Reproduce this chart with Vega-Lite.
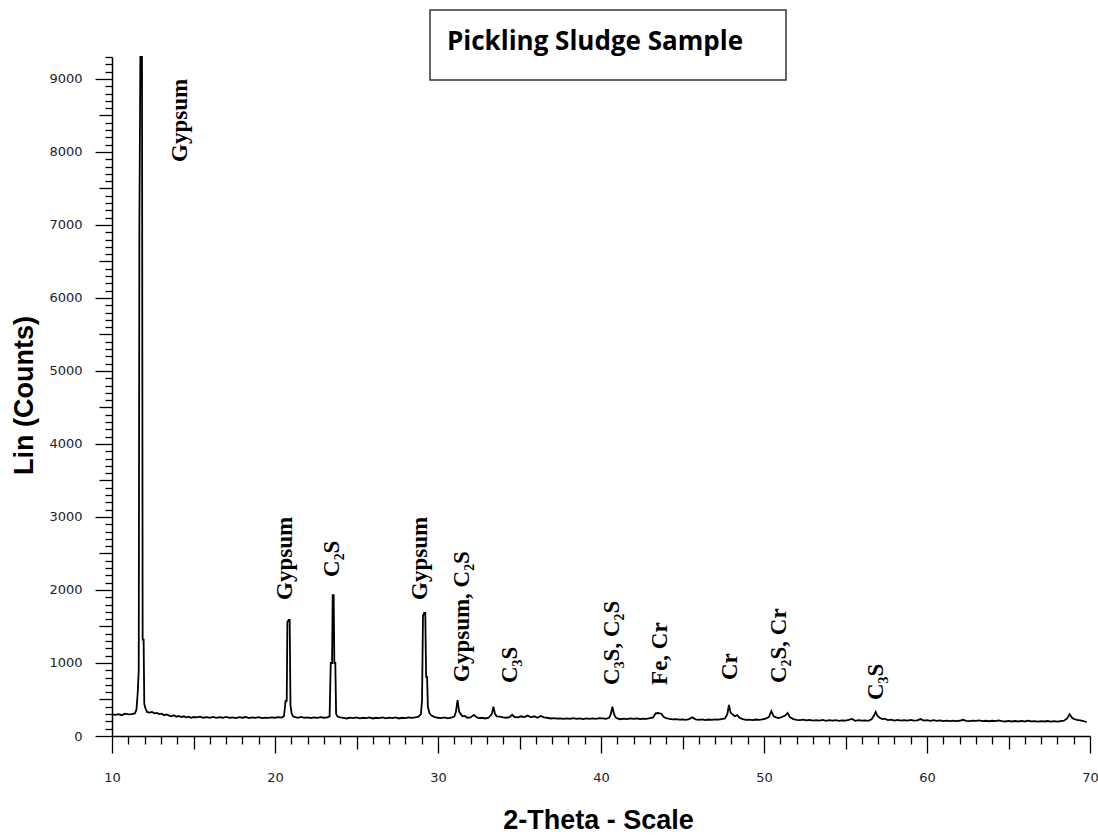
{
  "$schema": "https://vega.github.io/schema/vega-lite/v6.json",
  "width": 978,
  "height": 679,
  "autosize": {"type": "none"},
  "padding": {"left": 112, "top": 57, "right": 8, "bottom": 99},
  "background": "white",
  "config": {"view": {"stroke": null}},
  "datasets": {
    "pattern": [
      {"theta": 10.0, "counts": 295}, {"theta": 10.2, "counts": 290}, {"theta": 10.4, "counts": 300}, {"theta": 10.6, "counts": 285}, {"theta": 10.8, "counts": 305}, {"theta": 11.0, "counts": 295}, {"theta": 11.2, "counts": 300}, {"theta": 11.4, "counts": 310}, {"theta": 11.5, "counts": 360}, {"theta": 11.58, "counts": 600}, {"theta": 11.64, "counts": 900}, {"theta": 11.68, "counts": 7000}, {"theta": 11.74, "counts": 9300}, {"theta": 11.84, "counts": 9300}, {"theta": 11.88, "counts": 1320}, {"theta": 11.94, "counts": 1320}, {"theta": 11.98, "counts": 440}, {"theta": 12.05, "counts": 380}, {"theta": 12.15, "counts": 330}, {"theta": 12.3, "counts": 320}, {"theta": 12.45, "counts": 330}, {"theta": 12.6, "counts": 310}, {"theta": 12.75, "counts": 315}, {"theta": 12.9, "counts": 300}, {"theta": 13.05, "counts": 305}, {"theta": 13.2, "counts": 285}, {"theta": 13.35, "counts": 295}, {"theta": 13.5, "counts": 280}, {"theta": 13.65, "counts": 270}, {"theta": 13.8, "counts": 285}, {"theta": 13.95, "counts": 265}, {"theta": 14.1, "counts": 275}, {"theta": 14.25, "counts": 260}, {"theta": 14.4, "counts": 270}, {"theta": 14.55, "counts": 255}, {"theta": 14.7, "counts": 265}, {"theta": 14.85, "counts": 250}, {"theta": 15.0, "counts": 260}, {"theta": 15.2, "counts": 255}, {"theta": 15.4, "counts": 265}, {"theta": 15.6, "counts": 250}, {"theta": 15.8, "counts": 258}, {"theta": 16.0, "counts": 250}, {"theta": 16.2, "counts": 262}, {"theta": 16.4, "counts": 248}, {"theta": 16.6, "counts": 258}, {"theta": 16.8, "counts": 250}, {"theta": 17.0, "counts": 262}, {"theta": 17.2, "counts": 248}, {"theta": 17.4, "counts": 255}, {"theta": 17.6, "counts": 245}, {"theta": 17.8, "counts": 258}, {"theta": 18.0, "counts": 250}, {"theta": 18.2, "counts": 260}, {"theta": 18.4, "counts": 245}, {"theta": 18.6, "counts": 255}, {"theta": 18.8, "counts": 248}, {"theta": 19.0, "counts": 258}, {"theta": 19.2, "counts": 245}, {"theta": 19.4, "counts": 252}, {"theta": 19.6, "counts": 248}, {"theta": 19.8, "counts": 256}, {"theta": 20.0, "counts": 250}, {"theta": 20.2, "counts": 258}, {"theta": 20.4, "counts": 252}, {"theta": 20.55, "counts": 270}, {"theta": 20.65, "counts": 480}, {"theta": 20.72, "counts": 480}, {"theta": 20.76, "counts": 1560}, {"theta": 20.84, "counts": 1590}, {"theta": 20.9, "counts": 1590}, {"theta": 20.95, "counts": 420}, {"theta": 21.02, "counts": 310}, {"theta": 21.1, "counts": 270}, {"theta": 21.25, "counts": 258}, {"theta": 21.4, "counts": 250}, {"theta": 21.6, "counts": 262}, {"theta": 21.8, "counts": 248}, {"theta": 22.0, "counts": 256}, {"theta": 22.2, "counts": 245}, {"theta": 22.4, "counts": 255}, {"theta": 22.6, "counts": 248}, {"theta": 22.8, "counts": 258}, {"theta": 23.0, "counts": 250}, {"theta": 23.2, "counts": 255}, {"theta": 23.35, "counts": 270}, {"theta": 23.42, "counts": 1000}, {"theta": 23.5, "counts": 1000}, {"theta": 23.54, "counts": 1930}, {"theta": 23.6, "counts": 1930}, {"theta": 23.64, "counts": 1000}, {"theta": 23.7, "counts": 1000}, {"theta": 23.75, "counts": 300}, {"theta": 23.85, "counts": 265}, {"theta": 24.0, "counts": 255}, {"theta": 24.2, "counts": 248}, {"theta": 24.4, "counts": 240}, {"theta": 24.6, "counts": 252}, {"theta": 24.8, "counts": 245}, {"theta": 25.0, "counts": 255}, {"theta": 25.2, "counts": 242}, {"theta": 25.4, "counts": 250}, {"theta": 25.6, "counts": 245}, {"theta": 25.8, "counts": 255}, {"theta": 26.0, "counts": 240}, {"theta": 26.2, "counts": 250}, {"theta": 26.4, "counts": 246}, {"theta": 26.6, "counts": 256}, {"theta": 26.8, "counts": 242}, {"theta": 27.0, "counts": 252}, {"theta": 27.2, "counts": 245}, {"theta": 27.4, "counts": 255}, {"theta": 27.6, "counts": 240}, {"theta": 27.8, "counts": 250}, {"theta": 28.0, "counts": 245}, {"theta": 28.2, "counts": 256}, {"theta": 28.4, "counts": 248}, {"theta": 28.6, "counts": 255}, {"theta": 28.8, "counts": 265}, {"theta": 28.95, "counts": 300}, {"theta": 29.02, "counts": 480}, {"theta": 29.08, "counts": 1650}, {"theta": 29.16, "counts": 1685}, {"theta": 29.22, "counts": 1685}, {"theta": 29.27, "counts": 810}, {"theta": 29.33, "counts": 810}, {"theta": 29.38, "counts": 400}, {"theta": 29.48, "counts": 310}, {"theta": 29.6, "counts": 280}, {"theta": 29.8, "counts": 260}, {"theta": 30.0, "counts": 250}, {"theta": 30.2, "counts": 245}, {"theta": 30.4, "counts": 255}, {"theta": 30.6, "counts": 242}, {"theta": 30.8, "counts": 250}, {"theta": 31.0, "counts": 265}, {"theta": 31.1, "counts": 330}, {"theta": 31.2, "counts": 490}, {"theta": 31.3, "counts": 330}, {"theta": 31.4, "counts": 300}, {"theta": 31.5, "counts": 270}, {"theta": 31.65, "counts": 275}, {"theta": 31.8, "counts": 250}, {"theta": 32.0, "counts": 255}, {"theta": 32.2, "counts": 290}, {"theta": 32.35, "counts": 260}, {"theta": 32.5, "counts": 245}, {"theta": 32.7, "counts": 250}, {"theta": 32.9, "counts": 240}, {"theta": 33.1, "counts": 250}, {"theta": 33.3, "counts": 300}, {"theta": 33.4, "counts": 400}, {"theta": 33.5, "counts": 300}, {"theta": 33.6, "counts": 270}, {"theta": 33.8, "counts": 265}, {"theta": 34.0, "counts": 255}, {"theta": 34.2, "counts": 250}, {"theta": 34.4, "counts": 260}, {"theta": 34.55, "counts": 290}, {"theta": 34.7, "counts": 260}, {"theta": 34.9, "counts": 255}, {"theta": 35.1, "counts": 270}, {"theta": 35.3, "counts": 260}, {"theta": 35.5, "counts": 280}, {"theta": 35.7, "counts": 255}, {"theta": 35.9, "counts": 270}, {"theta": 36.1, "counts": 250}, {"theta": 36.3, "counts": 275}, {"theta": 36.5, "counts": 255}, {"theta": 36.7, "counts": 250}, {"theta": 36.9, "counts": 240}, {"theta": 37.1, "counts": 245}, {"theta": 37.3, "counts": 238}, {"theta": 37.5, "counts": 242}, {"theta": 37.7, "counts": 235}, {"theta": 37.9, "counts": 240}, {"theta": 38.1, "counts": 235}, {"theta": 38.3, "counts": 245}, {"theta": 38.5, "counts": 235}, {"theta": 38.7, "counts": 240}, {"theta": 38.9, "counts": 232}, {"theta": 39.1, "counts": 242}, {"theta": 39.3, "counts": 235}, {"theta": 39.5, "counts": 240}, {"theta": 39.7, "counts": 235}, {"theta": 39.9, "counts": 245}, {"theta": 40.1, "counts": 240}, {"theta": 40.3, "counts": 235}, {"theta": 40.5, "counts": 250}, {"theta": 40.6, "counts": 300}, {"theta": 40.7, "counts": 400}, {"theta": 40.8, "counts": 300}, {"theta": 40.9, "counts": 255}, {"theta": 41.0, "counts": 240}, {"theta": 41.2, "counts": 230}, {"theta": 41.4, "counts": 238}, {"theta": 41.6, "counts": 232}, {"theta": 41.8, "counts": 240}, {"theta": 42.0, "counts": 235}, {"theta": 42.2, "counts": 242}, {"theta": 42.4, "counts": 232}, {"theta": 42.6, "counts": 238}, {"theta": 42.8, "counts": 235}, {"theta": 43.0, "counts": 245}, {"theta": 43.2, "counts": 255}, {"theta": 43.35, "counts": 310}, {"theta": 43.5, "counts": 315}, {"theta": 43.7, "counts": 305}, {"theta": 43.85, "counts": 260}, {"theta": 44.0, "counts": 245}, {"theta": 44.2, "counts": 235}, {"theta": 44.4, "counts": 228}, {"theta": 44.6, "counts": 232}, {"theta": 44.8, "counts": 225}, {"theta": 45.0, "counts": 228}, {"theta": 45.2, "counts": 222}, {"theta": 45.4, "counts": 230}, {"theta": 45.6, "counts": 255}, {"theta": 45.8, "counts": 228}, {"theta": 46.0, "counts": 220}, {"theta": 46.2, "counts": 228}, {"theta": 46.4, "counts": 218}, {"theta": 46.6, "counts": 226}, {"theta": 46.8, "counts": 222}, {"theta": 47.0, "counts": 228}, {"theta": 47.2, "counts": 224}, {"theta": 47.4, "counts": 232}, {"theta": 47.6, "counts": 240}, {"theta": 47.75, "counts": 300}, {"theta": 47.85, "counts": 425}, {"theta": 47.95, "counts": 320}, {"theta": 48.05, "counts": 300}, {"theta": 48.2, "counts": 270}, {"theta": 48.35, "counts": 285}, {"theta": 48.5, "counts": 250}, {"theta": 48.7, "counts": 232}, {"theta": 48.9, "counts": 222}, {"theta": 49.1, "counts": 225}, {"theta": 49.3, "counts": 218}, {"theta": 49.5, "counts": 226}, {"theta": 49.7, "counts": 220}, {"theta": 49.9, "counts": 228}, {"theta": 50.1, "counts": 238}, {"theta": 50.3, "counts": 260}, {"theta": 50.45, "counts": 340}, {"theta": 50.6, "counts": 270}, {"theta": 50.75, "counts": 255}, {"theta": 50.9, "counts": 245}, {"theta": 51.1, "counts": 260}, {"theta": 51.3, "counts": 280}, {"theta": 51.45, "counts": 315}, {"theta": 51.6, "counts": 255}, {"theta": 51.8, "counts": 232}, {"theta": 52.0, "counts": 222}, {"theta": 52.2, "counts": 218}, {"theta": 52.4, "counts": 224}, {"theta": 52.6, "counts": 214}, {"theta": 52.8, "counts": 220}, {"theta": 53.0, "counts": 212}, {"theta": 53.2, "counts": 218}, {"theta": 53.4, "counts": 210}, {"theta": 53.6, "counts": 220}, {"theta": 53.8, "counts": 208}, {"theta": 54.0, "counts": 216}, {"theta": 54.2, "counts": 210}, {"theta": 54.4, "counts": 218}, {"theta": 54.6, "counts": 208}, {"theta": 54.8, "counts": 215}, {"theta": 55.0, "counts": 210}, {"theta": 55.2, "counts": 220}, {"theta": 55.4, "counts": 234}, {"theta": 55.6, "counts": 208}, {"theta": 55.8, "counts": 218}, {"theta": 56.0, "counts": 210}, {"theta": 56.2, "counts": 214}, {"theta": 56.4, "counts": 208}, {"theta": 56.6, "counts": 228}, {"theta": 56.75, "counts": 280}, {"theta": 56.85, "counts": 330}, {"theta": 56.95, "counts": 280}, {"theta": 57.1, "counts": 250}, {"theta": 57.25, "counts": 232}, {"theta": 57.4, "counts": 238}, {"theta": 57.6, "counts": 218}, {"theta": 57.8, "counts": 225}, {"theta": 58.0, "counts": 212}, {"theta": 58.2, "counts": 220}, {"theta": 58.4, "counts": 210}, {"theta": 58.6, "counts": 218}, {"theta": 58.8, "counts": 212}, {"theta": 59.0, "counts": 220}, {"theta": 59.2, "counts": 210}, {"theta": 59.4, "counts": 215}, {"theta": 59.6, "counts": 232}, {"theta": 59.8, "counts": 210}, {"theta": 60.0, "counts": 218}, {"theta": 60.2, "counts": 208}, {"theta": 60.4, "counts": 216}, {"theta": 60.6, "counts": 208}, {"theta": 60.8, "counts": 214}, {"theta": 61.0, "counts": 204}, {"theta": 61.2, "counts": 210}, {"theta": 61.4, "counts": 205}, {"theta": 61.6, "counts": 211}, {"theta": 61.8, "counts": 204}, {"theta": 62.0, "counts": 209}, {"theta": 62.2, "counts": 222}, {"theta": 62.4, "counts": 207}, {"theta": 62.6, "counts": 204}, {"theta": 62.8, "counts": 211}, {"theta": 63.0, "counts": 207}, {"theta": 63.2, "counts": 214}, {"theta": 63.4, "counts": 204}, {"theta": 63.6, "counts": 209}, {"theta": 63.8, "counts": 202}, {"theta": 64.0, "counts": 209}, {"theta": 64.2, "counts": 204}, {"theta": 64.4, "counts": 214}, {"theta": 64.6, "counts": 204}, {"theta": 64.8, "counts": 199}, {"theta": 65.0, "counts": 207}, {"theta": 65.2, "counts": 199}, {"theta": 65.4, "counts": 205}, {"theta": 65.6, "counts": 199}, {"theta": 65.8, "counts": 207}, {"theta": 66.0, "counts": 199}, {"theta": 66.2, "counts": 209}, {"theta": 66.4, "counts": 201}, {"theta": 66.6, "counts": 205}, {"theta": 66.8, "counts": 197}, {"theta": 67.0, "counts": 204}, {"theta": 67.2, "counts": 199}, {"theta": 67.4, "counts": 205}, {"theta": 67.6, "counts": 197}, {"theta": 67.8, "counts": 203}, {"theta": 68.0, "counts": 197}, {"theta": 68.2, "counts": 204}, {"theta": 68.4, "counts": 210}, {"theta": 68.6, "counts": 240}, {"theta": 68.75, "counts": 300}, {"theta": 68.9, "counts": 250}, {"theta": 69.0, "counts": 235}, {"theta": 69.2, "counts": 220}, {"theta": 69.4, "counts": 214}, {"theta": 69.6, "counts": 205}, {"theta": 69.8, "counts": 188}
    ],
    "phases": [
      {"theta": 14.17, "counts": 7863, "label": "Gypsum"},
      {"theta": 20.6, "counts": 1863, "label": "Gypsum"},
      {"theta": 23.5, "counts": 2178, "label": "C₂S"},
      {"theta": 28.9, "counts": 1863, "label": "Gypsum"},
      {"theta": 31.5, "counts": 740, "label": "Gypsum, C₂S"},
      {"theta": 34.4, "counts": 726, "label": "C₃S"},
      {"theta": 40.7, "counts": 700, "label": "C₃S, C₂S"},
      {"theta": 43.6, "counts": 700, "label": "Fe, Cr"},
      {"theta": 47.9, "counts": 767, "label": "Cr"},
      {"theta": 50.9, "counts": 726, "label": "C₂S, Cr"},
      {"theta": 56.9, "counts": 493, "label": "C₃S"}
    ],
    "titlebox": [
      {"x1": 29.51, "x2": 51.35, "y1": 9945, "y2": 8986, "tx": 30.55, "ty": 9507, "label": "Pickling Sludge Sample"}
    ]
  },
  "layer": [
    {
      "data": {"name": "pattern"},
      "mark": {"type": "line", "color": "black", "strokeWidth": 1.8},
      "encoding": {
        "x": {
          "field": "theta", "type": "quantitative",
          "scale": {"domain": [10, 70], "nice": false, "zero": false},
          "axis": {
            "title": "2-Theta - Scale",
            "tickCount": 60,
            "grid": false,
            "domainColor": "black", "domainWidth": 1.5,
            "tickColor": "black", "tickWidth": 1.3,
            "tickSize": {"condition": [{"test": "datum.value % 10 === 0", "value": 17}, {"test": "datum.value % 5 === 0", "value": 13}], "value": 8},
            "labelExpr": "datum.value % 10 === 0 ? datum.label : ''",
            "labelOverlap": false, "labelBound": false, "labelFlush": false,
            "labelFont": "DejaVu Sans", "labelFontSize": 13, "labelColor": "#222",
            "labelPadding": 18,
            "titleFont": "Liberation Sans", "titleFontSize": 27, "titleFontWeight": "bold", "titleColor": "black",
            "titleX": 486, "titleY": 84, "titleBaseline": "middle", "titleAnchor": "middle"
          }
        },
        "y": {
          "field": "counts", "type": "quantitative",
          "scale": {"domain": [0, 9300], "nice": false},
          "axis": {
            "title": "Lin (Counts)",
            "tickCount": 93,
            "grid": false,
            "domainColor": "black", "domainWidth": 1.5,
            "tickColor": "black", "tickWidth": 1.3,
            "tickSize": {"condition": [{"test": "datum.value % 1000 === 0", "value": 17}, {"test": "datum.value % 500 === 0", "value": 13}], "value": 7},
            "labelExpr": "datum.value % 1000 === 0 ? datum.label : ''",
            "format": "d",
            "labelOverlap": false, "labelBound": false, "labelFlush": false,
            "labelFont": "DejaVu Sans", "labelFontSize": 13, "labelColor": "#222",
            "labelPadding": 13,
            "titleFont": "Liberation Sans", "titleFontSize": 27, "titleFontWeight": "bold", "titleColor": "black",
            "titleX": -88, "titleY": 338, "titleAngle": 270, "titleBaseline": "middle", "titleAlign": "center"
          }
        }
      }
    },
    {
      "data": {"name": "phases"},
      "mark": {"type": "text", "angle": 270, "align": "left", "baseline": "middle", "font": "Liberation Serif", "fontWeight": "bold", "fontSize": 23, "color": "black"},
      "encoding": {
        "x": {"field": "theta", "type": "quantitative"},
        "y": {"field": "counts", "type": "quantitative"},
        "text": {"field": "label"}
      }
    },
    {
      "data": {"name": "titlebox"},
      "mark": {"type": "rect", "fill": "white", "stroke": "#333", "strokeWidth": 1.5},
      "encoding": {
        "x": {"field": "x1", "type": "quantitative"},
        "x2": {"field": "x2"},
        "y": {"field": "y1", "type": "quantitative"},
        "y2": {"field": "y2"}
      }
    },
    {
      "data": {"name": "titlebox"},
      "mark": {"type": "text", "align": "left", "baseline": "middle", "font": "Open Sans", "fontWeight": "bold", "fontSize": 26, "color": "black"},
      "encoding": {
        "x": {"field": "tx", "type": "quantitative"},
        "y": {"field": "ty", "type": "quantitative"},
        "text": {"field": "label"}
      }
    }
  ]
}
